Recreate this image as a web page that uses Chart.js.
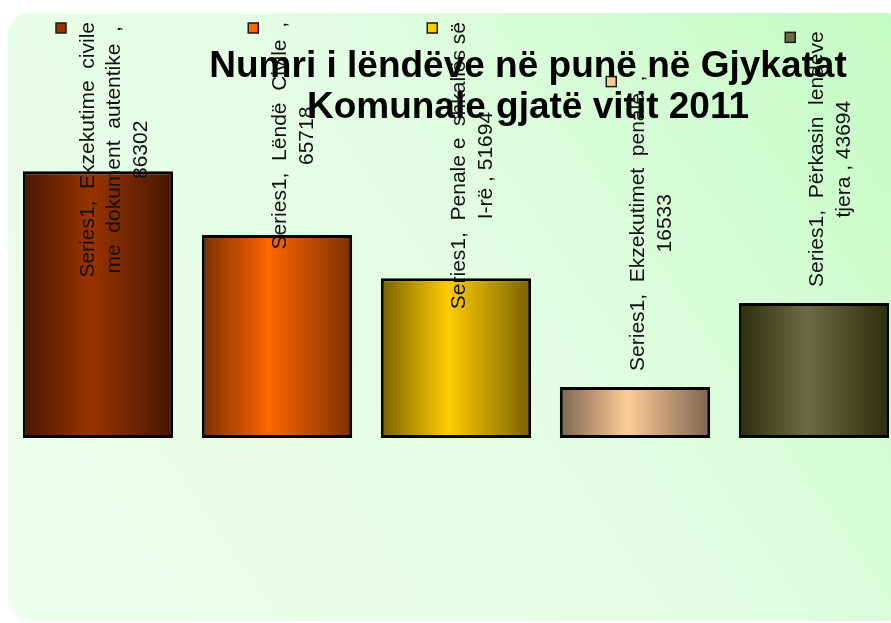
<!DOCTYPE html>
<html>
<head>
<meta charset="utf-8">
<script src="https://cdn.jsdelivr.net/npm/chart.js@4/dist/chart.umd.min.js"></script>
<style>
  html, body { margin: 0; padding: 0; background: #fff; overflow: hidden; }
  #wrap { width: 891px; height: 623px; overflow: hidden; }
  canvas { display: block; }
</style>
</head>
<body>
<div id="wrap"><canvas id="grafico" width="905" height="623"></canvas></div>
<script>
const titulo = ['Numri i lëndëve në punë në Gjykatat', 'Komunale gjatë vitit 2011']
const serie = 'Series1'
const categorias = ['Ekzekutime civile me dokument autentike', 'Lëndë Civile', 'Penale e shkallës së I-rë', 'Ekzekutimet penale', 'Përkasin lendeve tjera']
const valores = [86302, 65718, 51694, 16533, 43694]
// quebras de linha dos rótulos como aparecem no original ({v} = valor)
const rotulos = [
  'Series1,  Ekzekutime  civile|me  dokument  autentike  ,|{v}',
  'Series1,  Lëndë  Civile  ,|{v}',
  'Series1,  Penale e  shkallës së|I-rë , {v}',
  'Series1,  Ekzekutimet  penale  ,|{v}',
  'Series1,  Përkasin  lendeve|tjera , {v}'
]
const coresCentro = ['#993300', '#ff6600', '#ffcc00', '#ffcc99', '#6b6b45']
const coresBorda = ['#461700', '#7a3000', '#7a6200', '#7c644f', '#2c2e0c']
const eixoMax = 100000

const larguraBarra = 0.84
const fonteRotulo = '21px "Liberation Sans", Arial, sans-serif'
const fonteTitulo = 'bold 37px "Liberation Sans", Arial, sans-serif'

function gradienteBarra(ctx) {
  const chart = ctx.chart
  const i = ctx.dataIndex ?? 0
  const area = chart.chartArea
  if (!area || !chart.scales.x) return coresCentro[i]
  const x = chart.scales.x.getPixelForValue(i)
  const w = (area.right - area.left) / categorias.length * larguraBarra
  const g = chart.ctx.createLinearGradient(x - w / 2, 0, x + w / 2, 0)
  g.addColorStop(0, coresBorda[i])
  g.addColorStop(0.45, coresCentro[i])
  g.addColorStop(1, coresBorda[i])
  return g
}

// fundo verde com cantos arredondados
const fundo = {
  id: 'fundo',
  beforeDraw(chart) {
    const c = chart.ctx
    c.save()
    const g = c.createLinearGradient(8, 621, 891, 13)
    g.addColorStop(0, '#edfeed')
    g.addColorStop(0.55, '#e3fde3')
    g.addColorStop(1, '#c4fbc4')
    c.fillStyle = g
    c.beginPath()
    c.roundRect(8, 13, 900, 608, 22)
    c.fill()
    c.restore()
  }
}

// título + rótulos verticais com chave de legenda
const rotulosPlugin = {
  id: 'rotulos',
  afterDatasetsDraw(chart) {
    const c = chart.ctx
    c.save()
    c.fillStyle = '#000'
    c.font = fonteTitulo
    c.textAlign = 'center'
    c.textBaseline = 'alphabetic'
    c.fillText(titulo[0], 528, 77)
    c.fillText(titulo[1], 528, 118)

    const meta = chart.getDatasetMeta(0)
    const lh = 26.5
    meta.data.forEach((bar, i) => {
      const linhas = rotulos[i].replace('{v}', valores[i]).split('|')
      c.font = fonteRotulo
      const L = Math.max(...linhas.map(l => c.measureText(l).width))
      const cx = bar.x + 16.5
      let cy = bar.y - 16 - L / 2
      if (cy - L / 2 < 22) cy = 22 + L / 2
      c.save()
      c.translate(cx, cy)
      c.rotate(-Math.PI / 2)
      c.fillStyle = '#111'
      c.textAlign = 'center'
      c.textBaseline = 'middle'
      linhas.forEach((l, k) => {
        c.fillText(l, 0, (k - (linhas.length - 1) / 2) * lh)
      })
      c.restore()
      // chave da legenda
      const x0 = cx - (linhas.length - 1) / 2 * lh - 27
      const y0 = cy - L / 2 + 6
      c.fillStyle = coresCentro[i]
      c.fillRect(x0 - 5, y0 - 5, 10, 10)
      c.strokeStyle = '#1a1a1a'
      c.lineWidth = 1.5
      c.strokeRect(x0 - 5, y0 - 5, 10, 10)
    })
    c.restore()
  }
}

new Chart(document.getElementById('grafico'), {
  type: 'bar',
  data: {
    labels: categorias,
    datasets: [{
      label: serie,
      data: valores,
      backgroundColor: gradienteBarra,
      borderColor: '#000',
      borderWidth: 3,
      borderSkipped: false,
      barPercentage: larguraBarra,
      categoryPercentage: 1
    }]
  },
  options: {
    responsive: false,
    animation: false,
    devicePixelRatio: 1,
    layout: { padding: { left: 8.5, right: 1.5, top: 129, bottom: 185 } },
    plugins: {
      legend: { display: false },
      title: { display: false },
      tooltip: { enabled: false }
    },
    scales: {
      x: { display: false, grid: { display: false } },
      y: { display: false, min: 0, max: eixoMax, grid: { display: false } }
    }
  },
  plugins: [fundo, rotulosPlugin]
})
</script>
</body>
</html>
